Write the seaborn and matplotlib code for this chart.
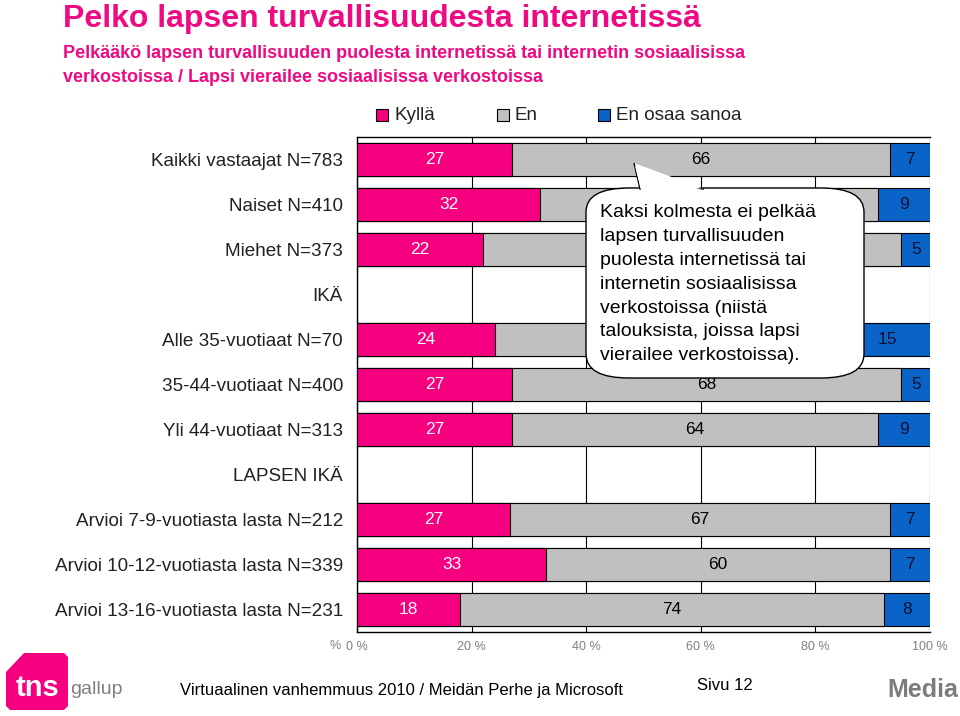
import numpy as np
import pandas as pd
import matplotlib
matplotlib.use("Agg")
import matplotlib.pyplot as plt
import seaborn as sns
from matplotlib.patches import FancyBboxPatch, Polygon, Rectangle

categories = ["Kaikki vastaajat N=783", "Naiset N=410", "Miehet N=373", "IKÄ",
              "Alle 35-vuotiaat N=70", "35-44-vuotiaat N=400", "Yli 44-vuotiaat N=313",
              "LAPSEN IKÄ", "Arvioi 7-9-vuotiasta lasta N=212",
              "Arvioi 10-12-vuotiasta lasta N=339", "Arvioi 13-16-vuotiasta lasta N=231"]
kylla = [27, 32, 22, np.nan, 24, 27, 27, np.nan, 27, 33, 18]
en = [66, 59, 73, np.nan, 61, 68, 64, np.nan, 67, 60, 74]
eos = [7, 9, 5, np.nan, 15, 5, 9, np.nan, 7, 7, 8]
series_names = ["Kyllä", "En", "En osaa sanoa"]
x_ticks = [0, 20, 40, 60, 80, 100]
# En-values covered by the speech bubble in the original slide
hidden_labels = [1, 2, 4]

PINK = "#F5007F"
GRAY = "#C0C0C0"
BLUE = "#0A64C8"
TITLE_C = "#EE0A82"

sns.set_style("white")
plt.rcParams["font.family"] = ["Liberation Sans", "DejaVu Sans"]

df = pd.DataFrame({"cat": categories, "k": kylla, "e": en, "o": eos})
total = df["k"] + df["e"] + df["o"]
df["c1"] = df["k"] / total * 100
df["c2"] = (df["k"] + df["e"]) / total * 100
df["c3"] = total / total * 100

fig = plt.figure(figsize=(9.6, 7.16), dpi=100)
ax = fig.add_axes([357 / 960, 1 - 632 / 716, 573 / 960, 495 / 716])

for col, color in [("c3", BLUE), ("c2", GRAY), ("c1", PINK)]:
    sns.barplot(data=df, x=col, y="cat", order=categories, color=color,
                saturation=1, orient="h", width=0.72, errorbar=None,
                edgecolor="black", linewidth=0.8, ax=ax, zorder=3)

# segment labels
for i, row in df.iterrows():
    if np.isnan(row["k"]):
        continue
    starts = [0, row["c1"], row["c2"]]
    ends = [row["c1"], row["c2"], row["c3"]]
    vals = [row["k"], row["e"], row["o"]]
    colors = ["white", "black", "#101030"]
    for j, (s, e, v, c) in enumerate(zip(starts, ends, vals, colors)):
        if j == 1 and i in hidden_labels:
            continue
        ax.text((s + e) / 2, i, f"{int(v)}", ha="center", va="center",
                fontsize=12.5, color=c, zorder=4)

ax.set_xlim(0, 100)
ax.set_xticks(x_ticks)
ax.set_xticklabels([f"{t} %" for t in x_ticks], color="#808080", fontsize=9)
ax.tick_params(axis="x", length=9, width=1, color="black", pad=2, direction="inout")
ax.xaxis.grid(True, color="black", linewidth=0.8, zorder=0)
ax.set_axisbelow(True)
ax.set_xlabel("")
ax.set_ylabel("")
ax.set_yticks(range(len(categories)))
ax.set_yticklabels(categories, fontsize=13.6, color="#222222")
ax.tick_params(axis="y", length=0, pad=10)
ax.set_yticks(np.arange(-0.5, len(categories), 1), minor=True)
ax.tick_params(axis="y", which="minor", length=7, width=1, color="black")
for sp in ["left", "top", "bottom"]:
    ax.spines[sp].set_visible(True)
    ax.spines[sp].set_color("black")
    ax.spines[sp].set_linewidth(1)
ax.spines["right"].set_visible(False)

fig.text(330 / 960, 1 - 646 / 716, "%", fontsize=9, color="#808080", ha="left", va="center")

# title
fig.text(63 / 960, 1 - 19 / 716, "Pelko lapsen turvallisuudesta internetissä",
         fontsize=23, fontweight="bold", color=TITLE_C, va="center", ha="left")
fig.text(63 / 960, 1 - 53 / 716,
         "Pelkääkö lapsen turvallisuuden puolesta internetissä tai internetin sosiaalisissa",
         fontsize=13, fontweight="bold", color=TITLE_C, va="center", ha="left")
fig.text(63 / 960, 1 - 78 / 716,
         "verkostoissa / Lapsi vierailee sosiaalisissa verkostoissa",
         fontsize=13, fontweight="bold", color=TITLE_C, va="center", ha="left")

# legend
for name, color, x in zip(series_names, [PINK, GRAY, BLUE], [376, 497, 598]):
    fig.patches.append(Rectangle((x / 960, 1 - 121 / 716), 12 / 960, 12 / 716,
                                 transform=fig.transFigure, facecolor=color,
                                 edgecolor="black", linewidth=0.8))
    fig.text((x + 18) / 960, 1 - 115 / 716, name, fontsize=13.6, color="#222222",
             va="center", ha="left")

# callout
px = lambda x, y: (x / 960, 1 - y / 716)
box = FancyBboxPatch(px(586, 378), 278 / 960, 190 / 716,
                     boxstyle="round,pad=0,rounding_size=0.045",
                     transform=fig.transFigure, facecolor="white", edgecolor="black",
                     linewidth=1, zorder=10, mutation_aspect=716 / 960)
fig.patches.append(box)
fig.patches.append(Polygon([px(634, 163), px(640, 189), px(704, 189)], closed=False,
                           transform=fig.transFigure, facecolor="white",
                           edgecolor="black", linewidth=1, zorder=11))
fig.patches.append(Polygon([px(641, 190), px(635, 166), px(702, 190)], closed=True,
                           transform=fig.transFigure, facecolor="white",
                           edgecolor="none", zorder=12))
fig.text(600 / 960, 1 - 204 / 716,
         "Kaksi kolmesta ei pelkää\nlapsen turvallisuuden\npuolesta internetissä tai\n"
         "internetin sosiaalisissa\nverkostoissa (niistä\ntalouksista, joissa lapsi\n"
         "vierailee verkostoissa).",
         fontsize=14, color="black", va="top", ha="left", linespacing=1.53, zorder=13)

# footer
fig.patches.append(Polygon([px(6, 672), px(24, 653), px(64, 653), px(68, 657),
                            px(68, 706), px(64, 710), px(10, 710), px(6, 706)],
                           closed=True, transform=fig.transFigure,
                           facecolor=PINK, edgecolor="none"))
fig.text(16 / 960, 1 - 688 / 716, "tns", fontsize=21, fontweight="bold", color="white",
         va="center", ha="left")
fig.text(70 / 960, 1 - 690 / 716, "gallup", fontsize=14, color="#808080",
         va="center", ha="left")
fig.text(180 / 960, 1 - 690 / 716,
         "Virtuaalinen vanhemmuus 2010 / Meidän Perhe ja Microsoft",
         fontsize=12, color="black", va="center", ha="left")
fig.text(697 / 960, 1 - 686 / 716, "Sivu 12", fontsize=12, color="black",
         va="center", ha="left")
fig.text(958 / 960, 1 - 690 / 716, "Media", fontsize=18, fontweight="bold",
         color="#7C7C7C", va="center", ha="right")

fig.savefig("out.png", dpi=100)
